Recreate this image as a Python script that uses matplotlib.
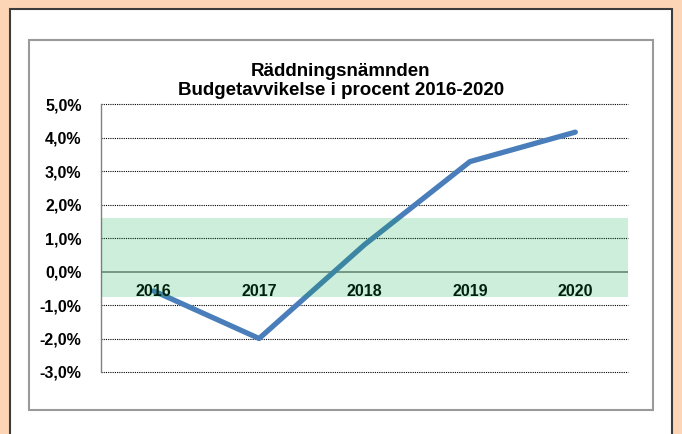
import matplotlib
matplotlib.use("Agg")
import matplotlib.pyplot as plt
from matplotlib.patches import Rectangle
from matplotlib.ticker import FuncFormatter

years = ['2016', '2017', '2018', '2019', '2020']
deviation = [-0.58, -2.0, 0.8, 3.28, 4.16]
band_low, band_high = -0.75, 1.6
y_ticks = [5, 4, 3, 2, 1, 0, -1, -2, -3]
title = "Räddningsnämnden\nBudgetavvikelse i procent 2016-2020"

plt.rcParams['font.family'] = ['Liberation Sans', 'DejaVu Sans']

W, H = 682, 434
fig = plt.figure(figsize=(W / 100, H / 100), dpi=100)
fig.patch.set_facecolor('#FCD5B6')

# outer white panel and inner chart box
fig.add_artist(Rectangle((10 / W, -0.05), 662 / W, (H - 9) / H + 0.05, transform=fig.transFigure,
                         facecolor='white', edgecolor='#3c3c3c', linewidth=1.5, zorder=0))
fig.add_artist(Rectangle((29 / W, (H - 410) / H), 624 / W, 370 / H, transform=fig.transFigure,
                         facecolor='white', edgecolor='#9a9a9a', linewidth=1.5, zorder=0))

ax = fig.add_axes([101 / W, (H - 372) / H, 527 / W, 268 / H])
ax.set_facecolor('none')
x = list(range(len(years)))

ax.set_xlim(-0.5, len(years) - 0.5)
ax.set_ylim(min(y_ticks), max(y_ticks))
ax.set_yticks(y_ticks)
ax.yaxis.set_major_formatter(FuncFormatter(lambda v, p: f"{v:.1f}%".replace('.', ',')))
ax.tick_params(axis='y', length=0, pad=14, labelsize=11.5)
for lbl in ax.get_yticklabels():
    lbl.set_fontweight('bold')
ax.set_xticks([])

for s in ['top', 'right', 'bottom']:
    ax.spines[s].set_visible(False)
ax.spines['left'].set_color('#808080')
ax.spines['left'].set_linewidth(1)

for v in y_ticks:
    if v == 0:
        ax.axhline(v, color='#808080', linewidth=1.2, zorder=1)
    else:
        ax.axhline(v, color='black', linewidth=0.8, linestyle=(0, (1, 1)), zorder=1, clip_on=False)

ax.plot(x, deviation, color='#4A7EBB', linewidth=3.8, solid_capstyle='round', zorder=2)

for i, yr in enumerate(years):
    ax.text(i, -0.6, yr, ha='center', va='center', fontsize=11.5, fontweight='bold',
            color='black', zorder=2)

ax.axhspan(band_low, band_high, color='#05AA4B', alpha=0.2, linewidth=0, zorder=3)

fig.text(341 / W, (H - 81) / H, title, ha='center', va='center', fontsize=13.5,
         fontweight='bold', linespacing=1.15)

fig.savefig('out.png', dpi=100, facecolor=fig.get_facecolor())
